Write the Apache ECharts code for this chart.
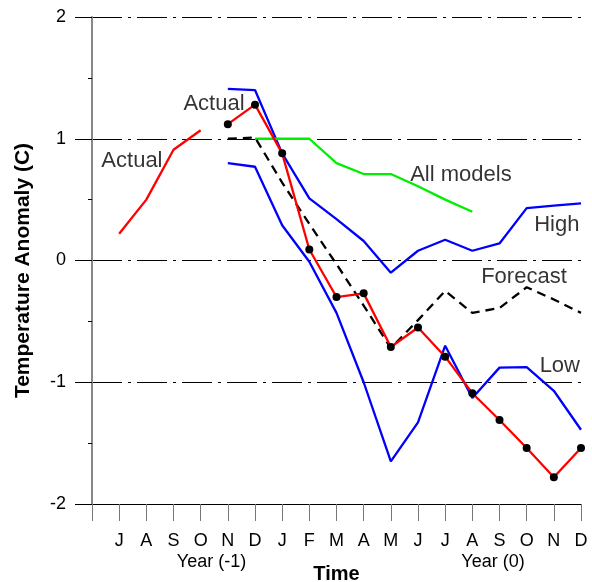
<!DOCTYPE html>
<html>
<head>
<meta charset="utf-8">
<script src="https://cdn.jsdelivr.net/npm/echarts@6/dist/echarts.min.js"></script>
<style>html,body{margin:0;padding:0;background:#fff}#c{width:592px;height:582px}</style>
</head>
<body>
<div id="c"></div>
<script>
const months = ['', 'J','A','S','O','N','D','J','F','M','A','M','J','J','A','S','O','N','D'];
const yTicks = ['-2','-1','0','1','2'];
const actualPrev = [null, 0.22, 0.50, 0.91, 1.07, null, null, null, null, null, null, null, null, null, null, null, null, null, null];
const actual     = [null, null, null, null, null, 1.12, 1.28, 0.88, 0.09, -0.30, -0.27, -0.71, -0.55, -0.79, -1.09, -1.31, -1.54, -1.78, -1.54];
const forecast   = [null, null, null, null, null, 1.00, 1.01, 0.64, 0.30, -0.03, -0.37, -0.72, -0.49, -0.25, -0.43, -0.39, -0.22, -0.32, -0.43];
const allModels  = [null, null, null, null, null, null, 1.00, 1.00, 1.00, 0.80, 0.71, 0.71, 0.61, 0.50, 0.40, null, null, null, null];
const high       = [null, null, null, null, null, 1.41, 1.40, 0.88, 0.51, 0.34, 0.16, -0.10, 0.08, 0.17, 0.08, 0.14, 0.43, 0.45, 0.47];
const low        = [null, null, null, null, null, 0.80, 0.77, 0.29, -0.01, -0.43, -1.00, -1.65, -1.33, -0.70, -1.13, -0.88, -0.875, -1.07, -1.39];
const notes = [
  [1.47, 0.82, 'Actual'],
  [4.49, 1.29, 'Actual'],
  [13.58, 0.70, 'All models'],
  [17.11, 0.29, 'High'],
  [15.9, -0.135, 'Forecast'],
  [17.22, -0.87, 'Low']
];
const yearLabels = [['Year (-1)', 4.4], ['Year (0)', 14.76]];

const toPairs = arr => arr.map((v, i) => [i, v]);
const FONT = '"Liberation Sans", Arial, sans-serif';

const chart = echarts.init(document.getElementById('c'), null, {renderer: 'canvas'});
const option = {
  animation: false,
  textStyle: {fontFamily: FONT, color: '#000'},
  grid: {left: 92, right: 11, top: 17, bottom: 78, containLabel: false, outerBoundsMode: 'none'},
  xAxis: {
    type: 'value', min: 0, max: 18, interval: 1,
    axisLine: {onZero: false, lineStyle: {color: '#000', width: 1}},
    axisTick: {length: 17, lineStyle: {color: '#777'}},
    axisLabel: {formatter: v => months[v] || '', fontSize: 18, color: '#000', margin: 28, fontFamily: FONT},
    splitLine: {show: false},
    name: 'Time', nameLocation: 'middle', nameGap: 60,
    nameTextStyle: {fontWeight: 'bold', fontSize: 20, color: '#000', fontFamily: FONT}
  },
  yAxis: {
    type: 'value', min: -2, max: 2, interval: 1,
    axisLine: {show: true, onZero: false, lineStyle: {color: '#888', width: 2}},
    axisTick: {show: true, length: 17, lineStyle: {color: '#000'}},
    minorTick: {show: true, splitNumber: 2, length: 4, lineStyle: {color: '#000'}},
    axisLabel: {fontSize: 18, margin: 26, color: '#000', fontFamily: FONT,
      formatter: v => yTicks[Math.round(v) + 2]},
    splitLine: {show: true, lineStyle: {type: [30, 6, 3, 6], color: '#000', width: 1}},
    name: 'Temperature Anomaly (C)', nameLocation: 'middle', nameGap: 58,
    nameTextStyle: {fontWeight: 'bold', fontSize: 21, color: '#000', fontFamily: FONT, padding: [0, 20, 0, 0]}
  },
  series: [
    {type: 'line', data: toPairs(high), symbol: 'none', lineStyle: {color: '#0000ff', width: 2.3}, z: 2},
    {type: 'line', data: toPairs(low), symbol: 'none', lineStyle: {color: '#0000ff', width: 2.3}, z: 2},
    {type: 'line', data: toPairs(allModels), symbol: 'none', lineStyle: {color: '#00ee00', width: 2.3}, z: 3},
    {type: 'line', data: toPairs(forecast), symbol: 'none', lineStyle: {color: '#000', width: 2.3, type: [9, 6]}, z: 4},
    {type: 'line', data: toPairs(actualPrev), symbol: 'none', lineStyle: {color: '#ff0000', width: 2.3}, z: 5},
    {type: 'line', data: toPairs(actual), symbol: 'circle', symbolSize: 8, showAllSymbol: true,
      itemStyle: {color: '#000', borderWidth: 0}, lineStyle: {color: '#ff0000', width: 2.3}, z: 6},
    {type: 'scatter', data: notes, symbolSize: 1, itemStyle: {color: 'rgba(0,0,0,0)'}, z: 7,
      label: {show: true, position: 'inside', formatter: p => p.data[2], fontSize: 22, color: '#000', fontFamily: FONT}}
  ]
};
chart.setOption(option);

const yPix = 562;
chart.setOption({
  graphic: yearLabels.map(([t, xi]) => ({
    type: 'text',
    x: chart.convertToPixel({xAxisIndex: 0}, xi),
    y: yPix,
    style: {text: t, fontSize: 18, fill: '#000', font: '18px ' + FONT, textAlign: 'center', textVerticalAlign: 'middle'}
  }))
});
</script>
</body>
</html>
